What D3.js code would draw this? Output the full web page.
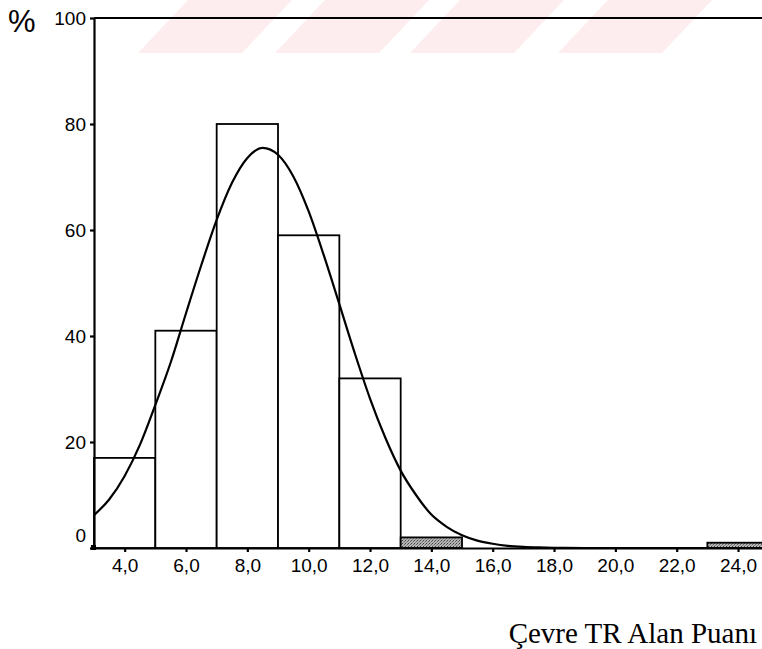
<!DOCTYPE html>
<html lang="tr">
<head>
    <meta charset="UTF-8">
    <title>Çevre TR Alan Puanı</title>
    <script src="https://d3js.org/d3.v7.min.js"></script>
    <style>
        body { margin: 0; background: #fff; }
        .axis text { font-family: "Liberation Sans", Arial, sans-serif; font-size: 19px; fill: #000; }
        .axis path, .axis line { stroke: #000; stroke-width: 2.2px; }
        .bar { stroke: #000; stroke-width: 1.8px; }
        .curve { fill: none; stroke: #000; stroke-width: 2.2px; }
    </style>
</head>
<body>
<div id="chart"></div>
<script>
    // histogram bins (lower edge, upper edge) and counts
    const binStarts = [3, 5, 7, 9, 11, 13, 15, 17, 19, 21, 23];
    const binWidth = 2;
    const binValues = [17, 41, 80, 59, 32, 2, 0, 0, 0, 0, 1];

    // normal curve
    const curveX = [3, 3.5, 4, 4.5, 5, 5.5, 6, 6.5, 7, 7.5, 8, 8.5, 9, 9.5, 10, 10.5, 11, 11.5,
                    12, 12.5, 13, 13.5, 14, 14.5, 15, 15.5, 16, 16.5, 17, 17.5, 18, 19, 20, 22, 25];
    const curveY = [6.2, 9.2, 13.6, 19.5, 27, 35, 44.3, 53.4, 61.9, 68.9, 73.6, 75.5, 74.2, 70.1, 63.5, 55.1, 46, 36.8,
                    28.2, 20.8, 14.6, 10, 6.3, 4, 2.4, 1.4, 0.8, 0.4, 0.2, 0.1, 0.05, 0, 0, 0, 0];

    const xTicks = [4, 6, 8, 10, 12, 14, 16, 18, 20, 22, 24];
    const yTicks = [0, 20, 40, 60, 80, 100];

    const width = 762, height = 649;

    const svg = d3.select("#chart")
        .append("svg")
        .attr("width", width)
        .attr("height", height);

    // pattern for the shaded (small) bars
    const defs = svg.append("defs");
    const pat = defs.append("pattern")
        .attr("id", "dither")
        .attr("width", 3)
        .attr("height", 3)
        .attr("patternUnits", "userSpaceOnUse");
    pat.append("rect").attr("width", 3).attr("height", 3).attr("fill", "#b4b4b4");
    pat.append("rect").attr("width", 1).attr("height", 1).attr("fill", "#444");
    pat.append("rect").attr("x", 2).attr("y", 1).attr("width", 1).attr("height", 1).attr("fill", "#666");
    pat.append("rect").attr("x", 1).attr("y", 2).attr("width", 1).attr("height", 1).attr("fill", "#888");

    // faint scan watermark stripes at the top
    [138, 275, 410, 558].forEach(x0 => {
        svg.append("path")
            .attr("d", `M${x0},53 L${x0 + 104},53 L${x0 + 154},0 L${x0 + 50},0 Z`)
            .attr("fill", "#fdedef");
    });

    const x = d3.scaleLinear().domain([3, 25]).range([94, 768.7]);
    const y = d3.scaleLinear().domain([0, 100]).range([548, 18]);

    // top frame line
    svg.append("line")
        .attr("x1", x(3)).attr("x2", x(25))
        .attr("y1", y(100)).attr("y2", y(100))
        .attr("stroke", "#000")
        .attr("stroke-width", 2);

    // bars
    svg.selectAll(".bar")
        .data(binStarts.map((s, i) => ({start: s, value: binValues[i]})).filter(d => d.value > 0))
        .enter().append("rect")
        .attr("class", "bar")
        .attr("x", d => x(d.start))
        .attr("y", d => y(d.value))
        .attr("width", d => x(d.start + binWidth) - x(d.start))
        .attr("height", d => y(0) - y(d.value))
        .attr("fill", d => d.value < 5 ? "url(#dither)" : "#fff");

    // normal curve
    const line = d3.line()
        .x(d => x(d[0]))
        .y(d => y(d[1]))
        .curve(d3.curveMonotoneX);

    svg.append("path")
        .datum(curveX.map((v, i) => [v, curveY[i]]))
        .attr("class", "curve")
        .attr("d", line);

    // x axis
    svg.append("g")
        .attr("class", "axis")
        .attr("transform", `translate(0,${y(0)})`)
        .call(d3.axisBottom(x)
            .tickValues(xTicks)
            .tickSize(4)
            .tickSizeOuter(0)
            .tickPadding(7)
            .tickFormat(d => d3.format(".1f")(d).replace(".", ",")));

    // y axis
    const yAxis = svg.append("g")
        .attr("class", "axis")
        .attr("transform", `translate(${x(3)},0)`)
        .call(d3.axisLeft(y)
            .tickValues(yTicks)
            .tickSize(4)
            .tickSizeOuter(0)
            .tickPadding(4));

    // zero label sits above the x axis
    yAxis.selectAll(".tick")
        .filter(d => d === 0)
        .select("text")
        .attr("dy", "-0.35em");

    // origin marker
    svg.append("rect")
        .attr("x", x(3) - 3).attr("y", y(0) - 3)
        .attr("width", 5).attr("height", 5)
        .attr("fill", "#000");

    // unit label
    svg.append("text")
        .attr("x", 8)
        .attr("y", 32)
        .style("font-family", "\"Liberation Sans\", Arial, sans-serif")
        .style("font-size", "31px")
        .text("%");

    // x axis title
    svg.append("text")
        .attr("x", 757)
        .attr("y", 643)
        .attr("text-anchor", "end")
        .style("font-family", "\"Liberation Serif\", \"Times New Roman\", serif")
        .style("font-size", "29px")
        .text("Çevre TR Alan Puanı");
</script>
</body>
</html>
